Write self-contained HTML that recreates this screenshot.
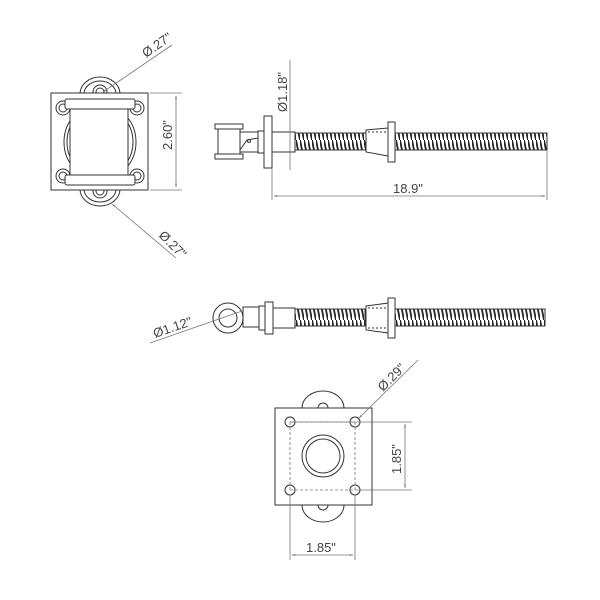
<!DOCTYPE html>
<html><head><style>body{margin:0;background:#fff}svg{display:block}text{font-family:"Liberation Sans",sans-serif;fill:#444;font-size:13px}</style></head><body>
<svg width="600" height="600" viewBox="0 0 600 600" xmlns="http://www.w3.org/2000/svg">
<defs>
<pattern id="thr" width="4" height="20" patternUnits="userSpaceOnUse"><rect width="4" height="20" fill="#fff"/><path d="M0,0 L4,20" stroke="#222" stroke-width="1.8"/></pattern>
<marker id="ar" viewBox="0 0 10 10" refX="10" refY="5" markerWidth="8" markerHeight="4" orient="auto-start-reverse"><path d="M0,2 L10,5 L0,8 Z" fill="#777"/></marker>
</defs>
<g fill="none" stroke="#333" stroke-width="1">
<ellipse cx="100" cy="94" rx="20" ry="17" fill="#fff"/><ellipse cx="100" cy="94" rx="16" ry="13"/>
<circle cx="100" cy="92" r="7"/><circle cx="100" cy="92" r="4"/>
<ellipse cx="100" cy="189" rx="20" ry="17" fill="#fff"/><ellipse cx="100" cy="189" rx="16" ry="13"/>
<circle cx="100" cy="191" r="7"/><circle cx="100" cy="191" r="4"/>
<rect x="51" y="93" width="97" height="97" fill="#fff"/>
<ellipse cx="100" cy="142" rx="36" ry="38"/><ellipse cx="100" cy="142" rx="33" ry="35"/>
<circle cx="63" cy="108" r="7" fill="#fff"/><circle cx="63" cy="108" r="4"/>
<circle cx="137" cy="108" r="7" fill="#fff"/><circle cx="137" cy="108" r="4"/>
<circle cx="63" cy="176" r="7" fill="#fff"/><circle cx="63" cy="176" r="4"/>
<circle cx="137" cy="176" r="7" fill="#fff"/><circle cx="137" cy="176" r="4"/>
<rect x="70" y="108" width="58" height="68" fill="#fff"/>
<rect x="65" y="99" width="70" height="10" rx="2" fill="#fff"/>
<rect x="65" y="175" width="70" height="10" rx="2" fill="#fff"/>
<rect x="215" y="124" width="28" height="5" fill="#fff"/><rect x="215" y="154" width="28" height="5" fill="#fff"/>
<rect x="218" y="129" width="22" height="25"/>
<path d="M240,132 L258,132 L258,152 L240,152 Z M240,150 L247,140 L258,138"/>
<circle cx="249" cy="141" r="1.5"/>
<rect x="258" y="131" width="6" height="22"/>
<rect x="264" y="116" width="8" height="52" fill="#fff"/>
<rect x="272" y="132" width="23" height="20"/>
<rect x="295" y="133" width="72" height="17" fill="url(#thr)"/>
<path d="M366,130 L388,128 L388,156 L366,152 Z" fill="#fff"/>
<path d="M368,132 L388,132" stroke-dasharray="2,2"/>
<rect x="388" y="122" width="7" height="40" fill="#fff"/>
<rect x="395" y="133" width="152" height="17" fill="url(#thr)"/>
<circle cx="228" cy="318" r="15" fill="#fff"/><circle cx="228" cy="318" r="9"/>
<rect x="243" y="307" width="16" height="20" fill="#fff"/>
<rect x="259" y="306" width="6" height="24"/>
<rect x="265" y="302" width="8" height="32" fill="#fff"/>
<rect x="273" y="308" width="22" height="20"/>
<rect x="295" y="309" width="70" height="17" fill="url(#thr)"/>
<path d="M366,306 L388,303 L388,333 L366,330 Z" fill="#fff"/>
<path d="M368,308 L388,308 M368,328 L388,328" stroke-dasharray="2,2"/>
<rect x="388" y="298" width="7" height="40" fill="#fff"/>
<rect x="395" y="309" width="150" height="17" fill="url(#thr)"/>
<ellipse cx="323" cy="408" rx="21" ry="17" fill="#fff"/>
<ellipse cx="323" cy="505" rx="21" ry="17" fill="#fff"/>
<circle cx="323" cy="408" r="5"/><circle cx="323" cy="505" r="5"/>
<rect x="275" y="408" width="97" height="97" fill="#fff"/>
<circle cx="290" cy="422" r="5"/><circle cx="355" cy="422" r="5"/>
<circle cx="290" cy="490" r="5"/><circle cx="355" cy="490" r="5"/>
<circle cx="323" cy="456" r="21"/><circle cx="323" cy="456" r="17"/>
</g>
<g fill="none" stroke="#777" stroke-width="0.8">
<path d="M150,93 L182,93 M150,190 L182,190"/>
<path d="M176,96 L176,187" marker-start="url(#ar)" marker-end="url(#ar)"/>
<path d="M172,45 L103,92" marker-end="url(#ar)"/>
<path d="M176,258 L112,204" marker-end="url(#ar)"/>
<path d="M272,168 L272,200 M547,150 L547,200"/>
<path d="M274,196 L545,196" marker-start="url(#ar)" marker-end="url(#ar)"/>
<path d="M290,60 L290,170"/>
<path d="M150,343 L242,311"/>
<path d="M290,422 L412,422 M355,490 L412,490"/>
<path d="M405,424 L405,488" marker-start="url(#ar)" marker-end="url(#ar)"/>
<path d="M290,495 L290,560 M355,495 L355,560"/>
<path d="M292,555 L353,555" marker-start="url(#ar)" marker-end="url(#ar)"/>
<path d="M290,422 L355,422 M290,490 L355,490 M290,422 L290,490 M355,422 L355,490" stroke-dasharray="3,2"/>
<path d="M418,360 L359,418" marker-end="url(#ar)"/>
</g>
<text transform="translate(146,58) rotate(-35)">Ø.27"</text>
<text transform="translate(158,236) rotate(45)">Ø.27"</text>
<text transform="translate(172,150) rotate(-90)">2.60"</text>
<text transform="translate(287,112) rotate(-90)">Ø1.18"</text>
<text x="393" y="193">18.9"</text>
<text transform="translate(155,338) rotate(-19)">Ø1.12"</text>
<text transform="translate(383,392) rotate(-45)">Ø.29"</text>
<text transform="translate(401,474) rotate(-90)">1.85"</text>
<text x="306" y="552">1.85"</text>
</svg>
</body></html>
